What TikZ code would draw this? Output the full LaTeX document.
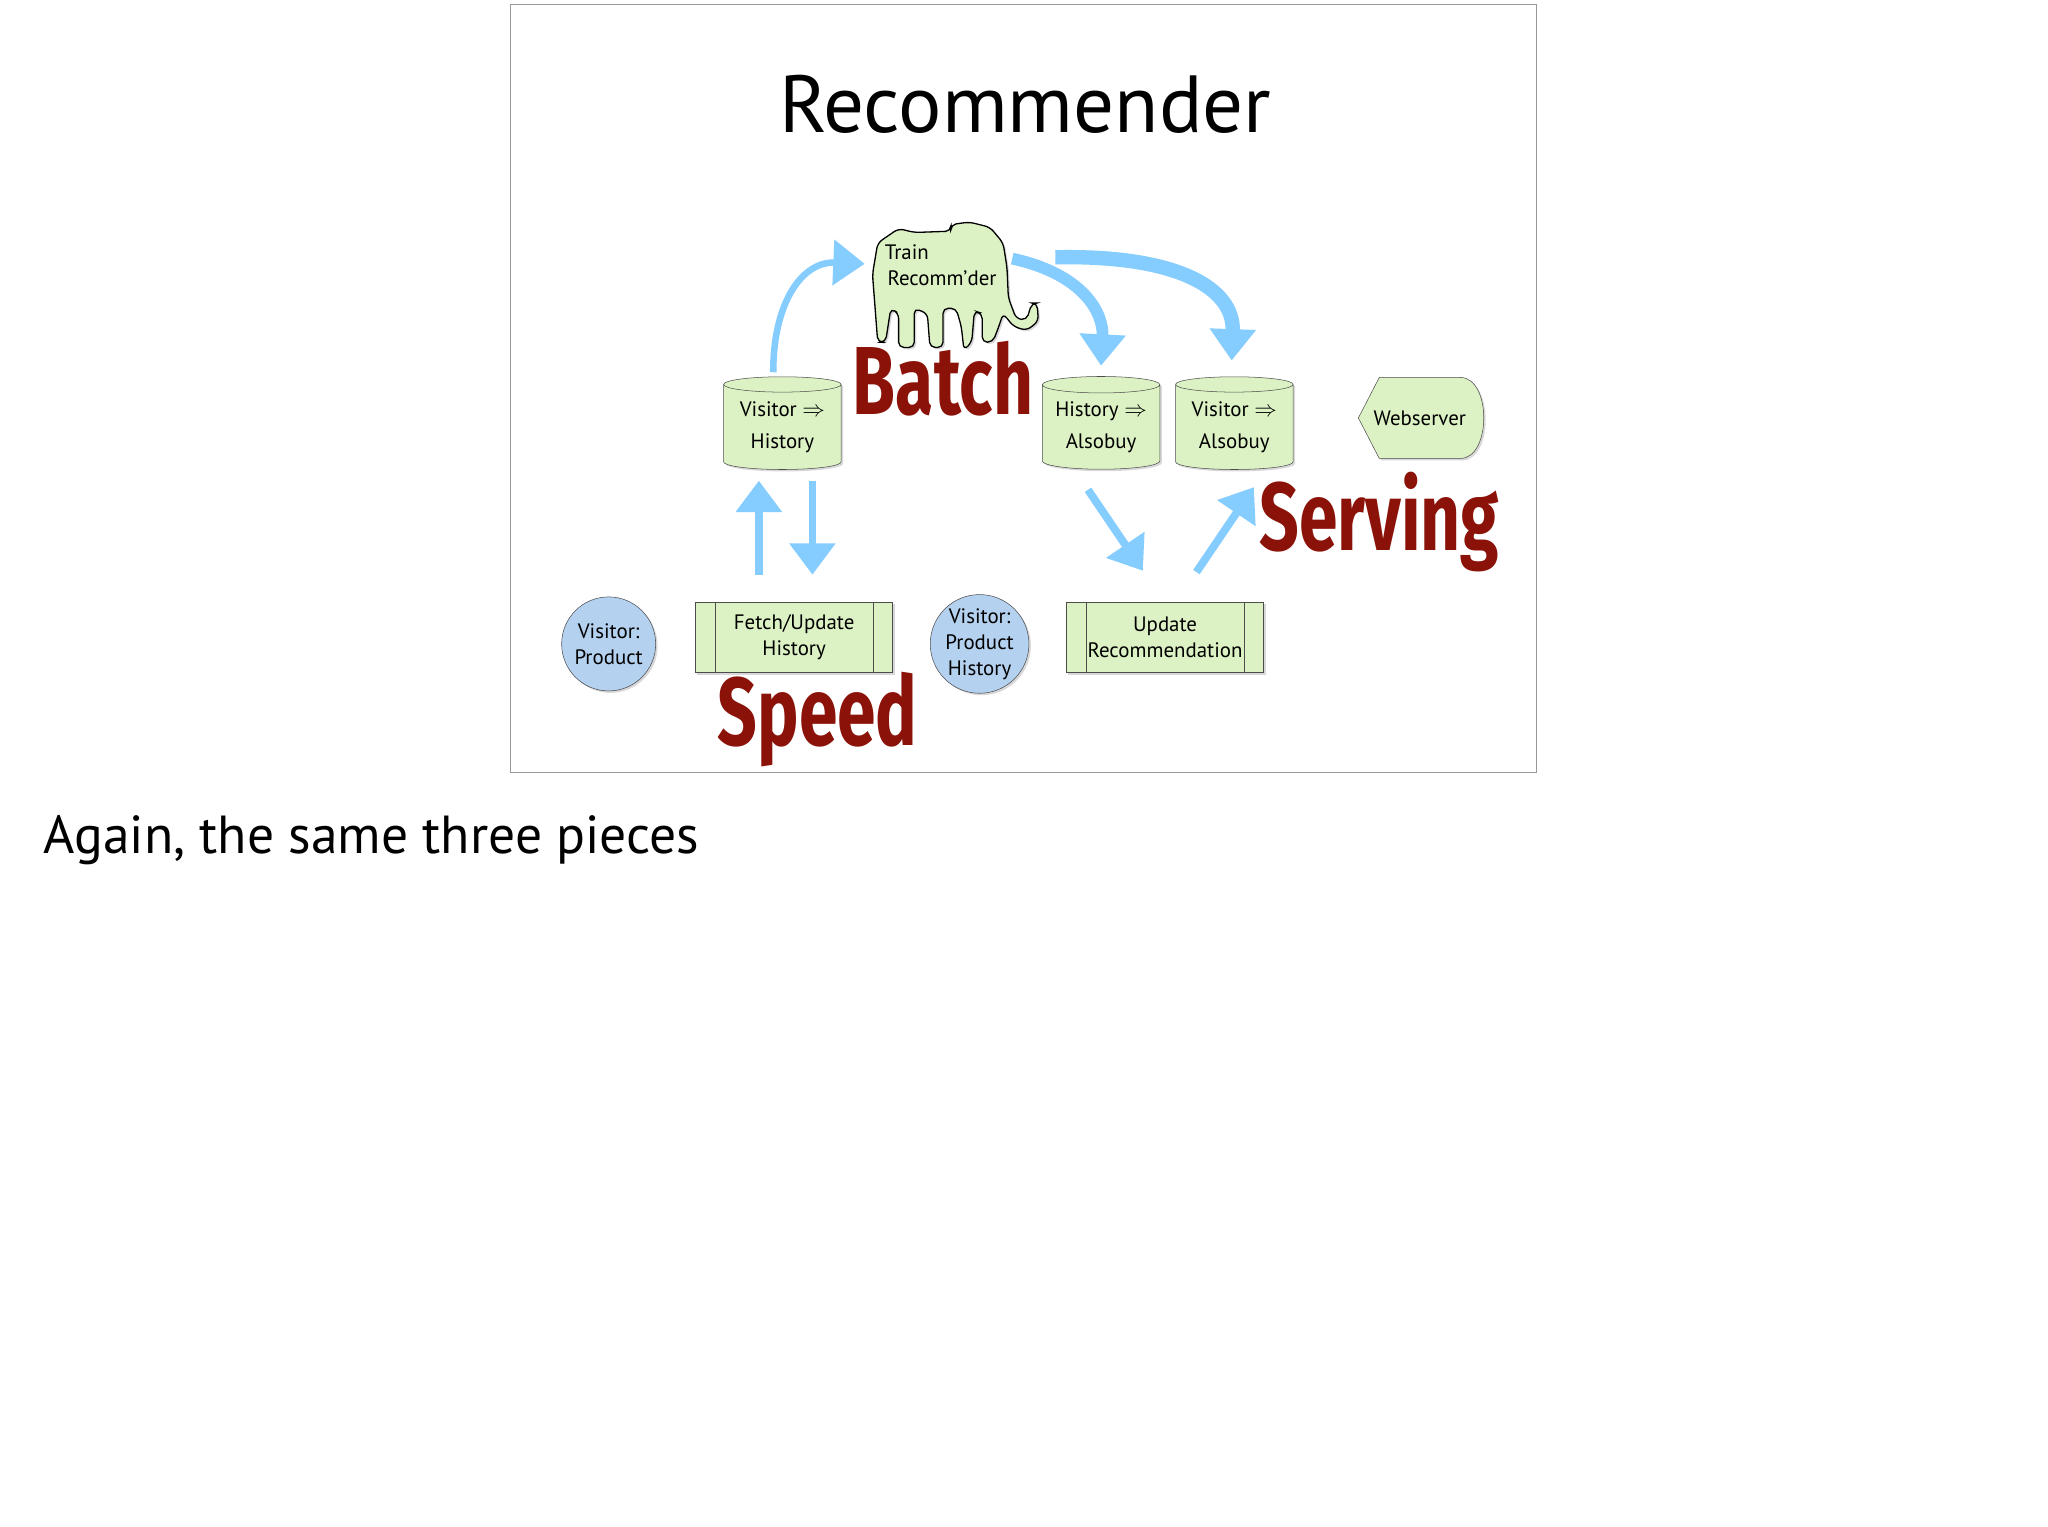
\documentclass[tikz,border=0pt]{standalone}
\usepackage{fontspec}
\setmainfont{PT Sans}
\newfontfamily\impactfont{Fira Sans}
\usetikzlibrary{shapes.geometric,shapes.misc,arrows.meta,shadows}
\definecolor{pgreen}{HTML}{DDF2C4}
\definecolor{pblue}{HTML}{B4D2F0}
\definecolor{arr}{HTML}{85CCFF}
\definecolor{dred}{HTML}{8B1208}
\tikzset{
 txt/.style={font=\fontsize{16}{20}\selectfont, align=center},
 dbcyl/.style={txt, cylinder, shape border rotate=90, aspect=0.18, draw=black!70, fill=pgreen, minimum width=90, minimum height=71, inner sep=0, drop shadow={opacity=0.3,shadow xshift=1.5pt,shadow yshift=-1.5pt}},
 procbox/.style={txt, draw=black!70, fill=pgreen, minimum width=151, minimum height=54, inner sep=0, drop shadow={opacity=0.3,shadow xshift=1.5pt,shadow yshift=-1.5pt}},
 circnode/.style={txt, circle, draw=black!70, fill=pblue, minimum size=72, inner sep=0, drop shadow={opacity=0.3,shadow xshift=1.5pt,shadow yshift=-1.5pt}},
 bigred/.style={font=\impactfont\bfseries\fontsize{74}{80}\selectfont, text=dred, xscale=0.72},
 flow/.style={draw=arr, line width=9pt, -{Triangle[length=24pt,width=34pt]}},
}
\begin{document}
\begin{tikzpicture}[x=1pt,y=-1pt]
\useasboundingbox[fill=white] (0,0) rectangle (1568,1169);
\draw[black!40] (391,3) rectangle (1176,591);
\node (title) at (785,80) {\fontsize{62}{70}\selectfont Recommender};
\node[anchor=west] (cap) at (30,643) {\fontsize{41}{48}\selectfont Again, the same three pieces};
% elephant
\path[draw=black, fill=pgreen, line width=1pt, rounded corners=4pt, drop shadow={opacity=0.3,shadow xshift=1.5pt,shadow yshift=-1.5pt}]
 (672,186) -- (688,175) -- (700,178) -- (728,177) -- (728,172) -- (742,170) -- (758,174) -- (768,186) -- (771,205) -- (772,228) -- (778,244) -- (786,245) -- (790,232) -- (794,232) -- (795,246) -- (786,253) -- (776,250) -- (768,240) -- (764,252) -- (760,262) -- (752,262) -- (752,240) -- (746,238) -- (744,262) -- (738,268) -- (736,250) -- (732,236) -- (722,236) -- (722,266) -- (712,266) -- (710,240) -- (700,236) -- (700,266) -- (688,266) -- (688,240) -- (682,236) -- (678,262) -- (672,262) -- (670,236) -- (668,210) -- cycle;
\node[txt, anchor=west] (train) at (674,193) {Train};
\node[txt, anchor=west] (recd) at (676,213) {Recomm'der};
% cylinders
\node[dbcyl] (vh) at (599,327) {Visitor $\Rightarrow$\\[5pt] History};
\node[dbcyl] (ha) at (843,327) {History $\Rightarrow$\\[5pt] Alsobuy};
\node[dbcyl] (va) at (945,327) {Visitor $\Rightarrow$\\[5pt] Alsobuy};
% webserver
\path[draw=black!70, fill=pgreen, drop shadow={opacity=0.3,shadow xshift=1.5pt,shadow yshift=-1.5pt}]
 (1040,320) -- (1056,289) -- (1118,289) .. controls (1142,289) and (1142,351) .. (1118,351) -- (1056,351) -- cycle;
\node[txt] (web) at (1087,320) {Webserver};
% circles
\node[circnode] (vp) at (466,493) {Visitor:\\Product};
\node[circnode] (vph) at (750,493) {Visitor:\\Product\\History};
% process boxes
\node[procbox] (fu) at (608,488) {Fetch/Update\\History};
\draw[black!70] ([xshift=15pt]fu.north west) -- ([xshift=15pt]fu.south west) ([xshift=-15pt]fu.north east) -- ([xshift=-15pt]fu.south east);
\node[procbox] (ur) at (892,488) {Update\\Recommendation};
\draw[black!70] ([xshift=15pt]ur.north west) -- ([xshift=15pt]ur.south west) ([xshift=-15pt]ur.north east) -- ([xshift=-15pt]ur.south east);
% labels
\node[bigred] (batch) at (722,290) {Batch};
\node[bigred] (speed) at (626,551) {Speed};
\node[bigred] (serv) at (1056,400) {Serving};
% arrows
\coordinate (a1s) at (592,285); \coordinate (a1e) at (662,202);
\draw[flow, line width=5pt] (a1s) .. controls (592,230) and (615,200) .. (a1e);
\coordinate (a2s) at (775,198); \coordinate (a2e) at (843,280);
\draw[flow] (a2s) .. controls (830,210) and (845,240) .. (a2e);
\coordinate (a3s) at (808,197); \coordinate (a3e) at (943,276);
\draw[flow, line width=11pt] (a3s) .. controls (900,195) and (945,220) .. (a3e);
\coordinate (a4s) at (581,440); \coordinate (a4e) at (581,368);
\draw[flow, line width=6pt] (a4s) -- (a4e);
\coordinate (a5s) at (622,368); \coordinate (a5e) at (622,440);
\draw[flow, line width=6pt] (a5s) -- (a5e);
\coordinate (a6s) at (833,375); \coordinate (a6e) at (875,437);
\draw[flow, line width=6pt] (a6s) -- (a6e);
\coordinate (a7s) at (916,438); \coordinate (a7e) at (960,373);
\draw[flow, line width=6pt] (a7s) -- (a7e);
\end{tikzpicture}
\end{document}
